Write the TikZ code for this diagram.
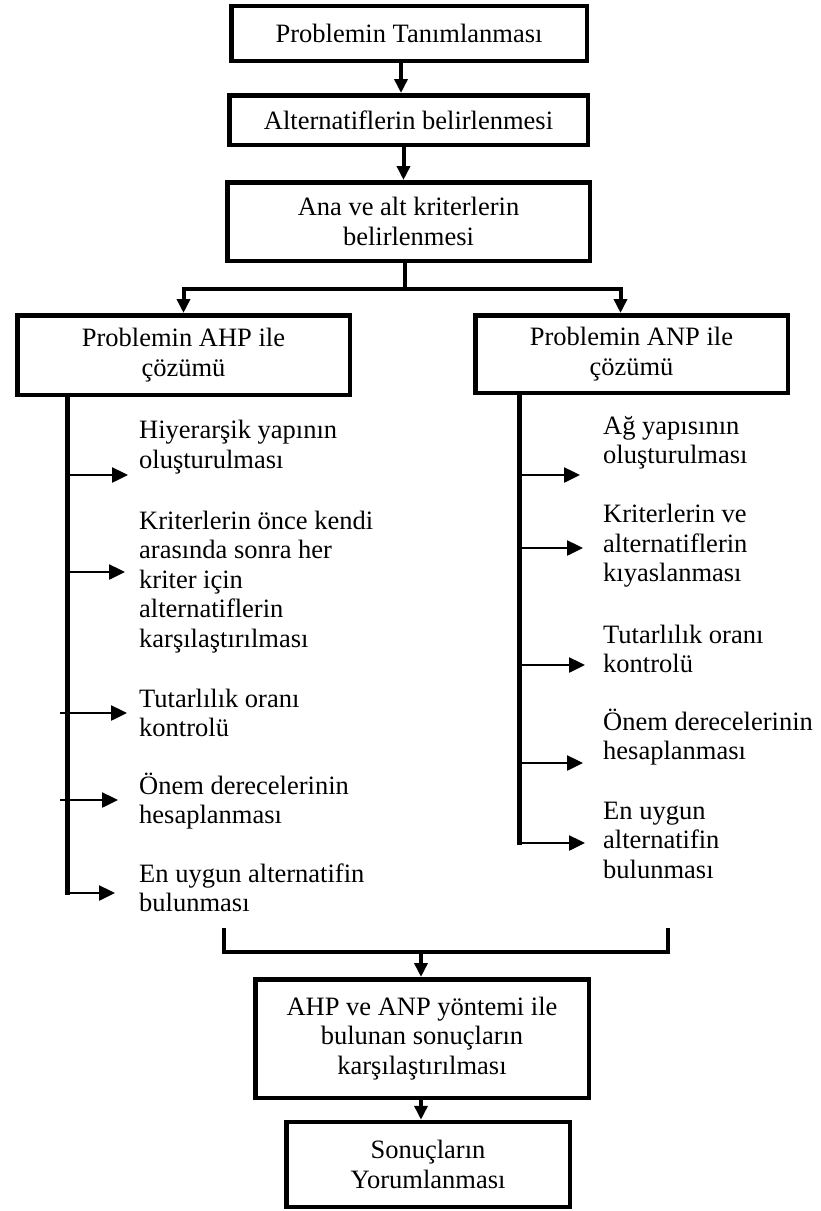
\documentclass[tikz,border=0pt]{standalone}
\usepackage{fontspec}
\setmainfont{Liberation Serif}
\usetikzlibrary{arrows.meta}
\begin{document}
\begin{tikzpicture}[x=1pt,y=-1pt,
  txt/.style={font=\fontsize{26.5}{29.5}\selectfont},
  box/.style={txt, draw, line width=4.5pt, align=center, inner sep=0pt},
  lbl/.style={txt, align=left, anchor=west, inner sep=0pt},
  link/.style={line width=4pt},
  down/.style={line width=4pt, -{Triangle[length=14pt,width=13pt]}},
  rarr/.style={line width=2.5pt, -{Triangle[length=16pt,width=15pt]}},
  spine/.style={line width=5pt}]
\useasboundingbox (0,0) rectangle (821,1211);

% main boxes
\node[box, minimum width=355.5pt, minimum height=55pt] (b1) at (409,33.5) {Problemin Tanımlanması};
\node[box, minimum width=358.5pt, minimum height=49.5pt] (b2) at (408.5,120) {Alternatiflerin belirlenmesi};
\node[box, minimum width=362.5pt, minimum height=78.5pt] (b3) at (408.5,221.5) {Ana ve alt kriterlerin\\belirlenmesi};
\node[box, minimum width=332.5pt, minimum height=79.5pt] (bl) at (183.5,355) {Problemin AHP ile\\çözümü};
\node[box, minimum width=312.5pt, minimum height=77.5pt] (br) at (631.5,354) {Problemin ANP ile\\çözümü};
\node[box, minimum width=333.5pt, minimum height=118.5pt] (b6) at (422,1038.5) {AHP ve ANP yöntemi ile\\bulunan sonuçların\\karşılaştırılması};
\node[box, minimum width=283.5pt, minimum height=85pt] (b7) at (428,1164.5) {Sonuçların\\Yorumlanması};

% top connectors
\draw[down] ([xshift=-8pt]b1.south) -- ([xshift=-8pt]b1.south |- b2.north);
\draw[down] ([xshift=-5pt]b2.south) -- ([xshift=-5pt]b2.south |- b3.north);
\draw[link] ([xshift=-4pt]b3.south) -- ++(0,26) coordinate (s);
\draw[down] (s) -| (bl.north);
\draw[down] (s) -| ([xshift=-11pt]br.north);

% left branch labels
\node[lbl] (L1) at (139,447) {Hiyerarşik yapının\\oluşturulması};
\node[lbl] (L2) at (139,582) {Kriterlerin önce kendi\\arasında sonra her\\kriter için\\alternatiflerin\\karşılaştırılması};
\node[lbl] (L3) at (139,713) {Tutarlılık oranı\\kontrolü};
\node[lbl] (L4) at (139,801) {Önem derecelerinin\\hesaplanması};
\node[lbl] (L5) at (139,888) {En uygun alternatifin\\bulunması};

% left spine and arrows
\draw[spine] ([xshift=-116.5pt]bl.south) -- ++(0,497.5) coordinate (lend);
\coordinate (la1) at (67,475);  \coordinate (ta1) at (128,475);
\coordinate (la2) at (67,572);  \coordinate (ta2) at (125,572);
\coordinate (la3) at (60,713);  \coordinate (ta3) at (127,713);
\coordinate (la4) at (60,800);  \coordinate (ta4) at (118,800);
\coordinate (la5) at (64.5,893); \coordinate (ta5) at (115,893);
\draw[rarr] (la1) -- (ta1);
\draw[rarr] (la2) -- (ta2);
\draw[rarr] (la3) -- (ta3);
\draw[rarr] (la4) -- (ta4);
\draw[rarr] (la5) -- (ta5);

% right branch labels
\node[lbl] (R1) at (603,443) {Ağ yapısının\\oluşturulması};
\node[lbl] (R2) at (603,546) {Kriterlerin ve\\alternatiflerin\\kıyaslanması};
\node[lbl] (R3) at (603,649) {Tutarlılık oranı\\kontrolü};
\node[lbl] (R4) at (603,737) {Önem derecelerinin\\hesaplanması};
\node[lbl] (R5) at (603,840) {En uygun\\alternatifin\\bulunması};

% right spine and arrows
\draw[spine] ([xshift=-112.5pt]br.south) -- ++(0,449.5) coordinate (rend);
\coordinate (ra1) at (519,475);  \coordinate (tr1) at (580,475);
\coordinate (ra2) at (519,548);  \coordinate (tr2) at (583,548);
\coordinate (ra3) at (519,665);  \coordinate (tr3) at (585,665);
\coordinate (ra4) at (519,763);  \coordinate (tr4) at (583,763);
\coordinate (ra5) at (516.5,843); \coordinate (tr5) at (585,843);
\draw[rarr] (ra1) -- (tr1);
\draw[rarr] (ra2) -- (tr2);
\draw[rarr] (ra3) -- (tr3);
\draw[rarr] (ra4) -- (tr4);
\draw[rarr] (ra5) -- (tr5);

% merge bracket
\coordinate (mL) at (224,928);
\coordinate (mC) at (421,952);
\draw[link] (mL) -- ++(0,24) -- ++(444,0) -- ++(0,-24) coordinate (mR);
\draw[down] (mC) -- (mC |- b6.north);
\draw[down] ([xshift=-1pt]b6.south) -- ([xshift=-1pt]b6.south |- b7.north);
\end{tikzpicture}
\end{document}
